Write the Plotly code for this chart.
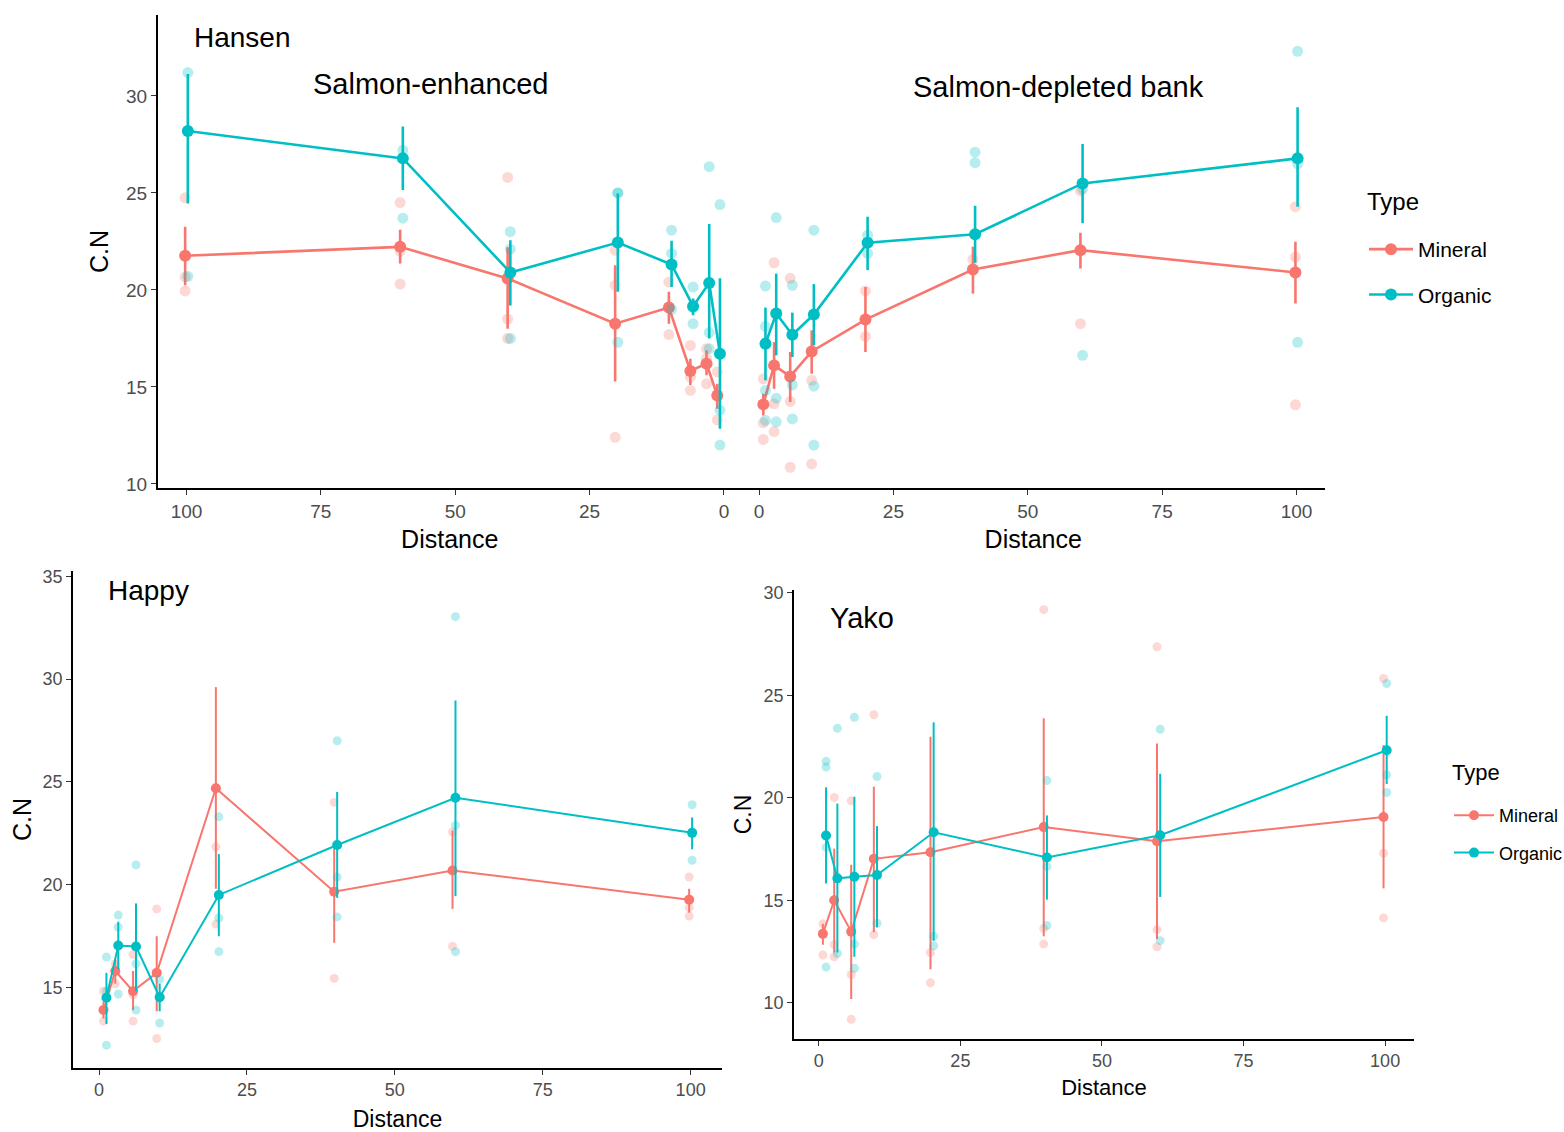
import plotly.graph_objects as go

W, H = 1564, 1132
MIN_C = "#F8766D"
ORG_C = "#00BFC4"
FONT = "Liberation Sans, Arial, sans-serif"

DIST = [1, 3, 6, 10, 20, 40, 60, 100]
TICKS = [0, 25, 50, 75, 100]

# ---- Hansen, salmon-enhanced side (left) ----
han_enh_org_mean = [16.71, 20.36, 19.16, 21.31, 22.44, 20.90, 26.78, 28.19]
han_enh_org_lo = [12.84, 17.50, 18.70, 20.15, 19.90, 19.20, 25.15, 24.46]
han_enh_org_hi = [20.60, 23.40, 19.56, 22.53, 24.97, 22.56, 28.42, 31.13]
han_enh_min_mean = [14.56, 16.20, 15.82, 19.09, 18.26, 20.59, 22.22, 21.76]
han_enh_min_lo = [13.87, 15.60, 15.10, 18.26, 15.28, 18.00, 21.36, 20.24]
han_enh_min_hi = [15.16, 16.88, 16.45, 19.90, 21.27, 22.20, 23.10, 23.25]
han_enh_org_raw = [[24.4, 13.8, 12.0], [26.35, 17.8, 16.97], [20.15, 18.26, 19.07],
                   [23.08, 21.88, 19.0], [25.0, 25.0, 17.3], [23.0, 22.1, 17.5],
                   [27.2, 23.7], [31.2, 20.7]]
han_enh_min_raw = [[15.77, 13.3, 14.6], [16.97, 15.16, 16.47], [17.14, 14.82, 15.5],
                   [20.4, 19.1, 17.7], [22.05, 20.24, 12.4], [25.8, 18.5, 17.5],
                   [24.5, 22.0, 20.3], [24.75, 20.67, 19.95]]

# ---- Hansen, salmon-depleted bank (right) ----
han_dep_org_mean = [17.23, 18.78, 17.69, 18.73, 22.43, 22.87, 25.49, 26.78]
han_dep_org_lo = [15.34, 16.63, 16.54, 17.14, 21.02, 21.40, 23.43, 24.29]
han_dep_org_hi = [19.09, 20.84, 18.83, 20.30, 23.77, 24.34, 27.52, 29.41]
han_dep_min_mean = [14.10, 16.11, 15.54, 16.83, 18.47, 21.05, 22.05, 20.90]
han_dep_min_lo = [13.53, 14.90, 14.22, 15.68, 16.80, 19.81, 21.10, 19.30]
han_dep_min_hi = [14.65, 17.31, 16.80, 17.92, 20.15, 22.22, 22.94, 22.48]
han_dep_org_raw = [[20.2, 18.12, 14.82, 13.27], [23.73, 14.42, 13.2], [20.24, 15.1, 13.35],
                   [23.08, 15.04, 12.0], [22.82, 21.88], [27.1, 26.56],
                   [25.2, 16.63], [32.3, 26.5, 17.3]]
han_dep_min_raw = [[15.42, 13.15, 12.29], [21.4, 14.13, 12.7], [20.6, 14.25, 10.86],
                   [16.85, 15.34, 11.03], [19.95, 17.6], [21.57, 21.05],
                   [25.1, 18.26], [24.29, 21.7, 14.08]]

# ---- Happy ----
hap_org_mean = [14.50, 17.04, 16.99, 14.52, 19.50, 21.93, 24.23, 22.52]
hap_org_lo = [13.22, 15.89, 14.82, 13.84, 17.49, 19.36, 19.44, 21.72]
hap_org_hi = [15.71, 18.20, 19.09, 15.18, 21.49, 24.51, 28.96, 23.27]
hap_min_mean = [13.90, 15.80, 14.82, 15.71, 24.69, 19.66, 20.69, 19.27]
hap_min_lo = [13.49, 15.18, 13.90, 13.84, 19.80, 17.17, 18.82, 18.64]
hap_min_hi = [14.29, 16.33, 15.80, 17.49, 29.61, 21.93, 22.64, 19.80]
hap_org_raw = [[16.48, 12.19, 14.82], [18.52, 17.93, 14.68], [20.96, 16.15, 13.9],
               [15.39, 13.27], [23.3, 18.38, 16.74], [27.0, 20.37, 18.43],
               [33.04, 22.88, 16.74], [23.89, 21.19]]
hap_min_raw = [[14.82, 13.36], [16.15, 15.18], [16.6, 14.64, 13.36], [18.82, 12.51],
               [21.84, 18.08], [24.0, 15.44], [22.56, 17.0], [20.37, 18.88, 18.47]]

# ---- Yako ----
yak_org_mean = [18.16, 16.07, 16.15, 16.23, 18.32, 17.09, 18.17, 22.32]
yak_org_lo = [15.82, 12.45, 12.24, 13.68, 13.03, 15.03, 15.16, 20.67]
yak_org_hi = [20.51, 19.72, 20.05, 18.62, 23.68, 19.14, 21.17, 24.00]
yak_min_mean = [13.36, 15.00, 13.47, 17.02, 17.34, 18.57, 17.88, 19.06]
yak_min_lo = [12.83, 12.45, 10.18, 13.44, 11.63, 13.24, 13.11, 15.58]
yak_min_hi = [13.85, 17.52, 16.73, 20.54, 22.98, 23.88, 22.65, 22.57]
yak_org_raw = [[21.78, 21.5, 17.58, 11.74], [23.39, 12.4], [23.93, 12.86, 11.68],
               [21.04, 13.88], [13.24, 12.78], [20.84, 16.64, 13.77],
               [23.34, 13.03], [25.58, 21.12, 20.26]]
yak_min_raw = [[13.85, 12.33], [20.02, 12.83, 12.24], [19.85, 11.38, 9.19],
               [24.05, 13.32], [12.45, 10.97], [29.18, 13.63, 12.86],
               [27.37, 13.57, 12.73], [25.82, 17.3, 14.14]]


def px(x):
    return x / W


def py(y):
    return 1 - y / H


fig = go.Figure()


def add_series(name, color, mean, lo, hi, raw, xa, ya, dodge, msize, rsize, lw,
               legend=None, show=False):
    xs = [d + dodge for d in DIST]
    rx, ry = [], []
    for d, vals in zip(DIST, raw):
        for v in vals:
            rx.append(d + dodge)
            ry.append(v)
    fig.add_trace(go.Scatter(
        x=rx, y=ry, mode="markers", xaxis=xa, yaxis=ya, showlegend=False,
        marker=dict(color=color, size=rsize, opacity=0.28, line=dict(width=0)),
        hoverinfo="skip"))
    fig.add_trace(go.Scatter(
        x=xs, y=mean, mode="lines+markers", name=name, xaxis=xa, yaxis=ya,
        line=dict(color=color, width=lw),
        marker=dict(color=color, size=msize),
        error_y=dict(type="data", symmetric=False,
                     array=[h - m for h, m in zip(hi, mean)],
                     arrayminus=[m - l for m, l in zip(mean, lo)],
                     width=0, thickness=lw, color=color),
        showlegend=show, legend=legend if legend else "legend",
        legendgroup=(legend or "legend") + name))


# Top: Hansen left (reversed axis), right
add_series("Mineral", MIN_C, han_enh_min_mean, han_enh_min_lo, han_enh_min_hi,
           han_enh_min_raw, "x", "y", 0.25, 12, 11, 2.6, "legend", True)
add_series("Organic", ORG_C, han_enh_org_mean, han_enh_org_lo, han_enh_org_hi,
           han_enh_org_raw, "x", "y", -0.25, 12, 11, 2.6, "legend", True)
add_series("Mineral", MIN_C, han_dep_min_mean, han_dep_min_lo, han_dep_min_hi,
           han_dep_min_raw, "x2", "y", -0.2, 12, 11, 2.6)
add_series("Organic", ORG_C, han_dep_org_mean, han_dep_org_lo, han_dep_org_hi,
           han_dep_org_raw, "x2", "y", 0.2, 12, 11, 2.6)
# Happy
add_series("Mineral", MIN_C, hap_min_mean, hap_min_lo, hap_min_hi,
           hap_min_raw, "x3", "y2", -0.25, 10, 9, 2)
add_series("Organic", ORG_C, hap_org_mean, hap_org_lo, hap_org_hi,
           hap_org_raw, "x3", "y2", 0.25, 10, 9, 2)
# Yako
add_series("Mineral", MIN_C, yak_min_mean, yak_min_lo, yak_min_hi,
           yak_min_raw, "x4", "y3", -0.28, 10, 9, 2, "legend2", True)
add_series("Organic", ORG_C, yak_org_mean, yak_org_lo, yak_org_hi,
           yak_org_raw, "x4", "y3", 0.28, 10, 9, 2, "legend2", True)

tickfont_top = dict(family=FONT, size=19, color="#4D4D4D")
tickfont_bot = dict(family=FONT, size=18, color="#4D4D4D")


def xax(domain, rng, anchor, tf, title_size, standoff, lw):
    return dict(domain=domain, range=rng, anchor=anchor, tickvals=TICKS,
                automargin=False,
                showline=True, linecolor="black", linewidth=lw,
                ticks="outside", ticklen=5, tickwidth=1.2, tickcolor="#333333",
                showgrid=False, zeroline=False, tickfont=tf,
                title=dict(text="Distance", standoff=standoff,
                           font=dict(family=FONT, size=title_size, color="black")))


def yax(domain, rng, anchor, tv, tf, title_size, standoff, lw):
    return dict(domain=domain, range=rng, anchor=anchor, tickvals=tv,
                automargin=False,
                showline=True, linecolor="black", linewidth=lw,
                ticks="outside", ticklen=5, tickwidth=1.2, tickcolor="#333333",
                showgrid=False, zeroline=False, tickfont=tf,
                title=dict(text="C.N", standoff=standoff,
                           font=dict(family=FONT, size=title_size, color="black")))


mid = 741.5
fig.update_layout(
    width=W, height=H,
    margin=dict(l=0, r=0, t=0, b=0, pad=0, autoexpand=False),
    paper_bgcolor="white", plot_bgcolor="rgba(0,0,0,0)",
    font=dict(family=FONT),
    xaxis=xax([px(158), px(mid)], [105.3, -3.26], "y", tickfont_top, 25, 10, 2),
    xaxis2=xax([px(mid), px(1325)], [-3.26, 105.3], "y", tickfont_top, 25, 10, 2),
    yaxis=yax([py(488), py(15)], [9.79, 34.17], "x", [10, 15, 20, 25, 30],
              tickfont_top, 25, 10, 2),
    xaxis3=xax([px(73), px(722)], [-4.4, 105.3], "y2", tickfont_bot, 23, 11, 1.6),
    yaxis2=yax([py(1068), py(571)], [11.08, 35.26], "x3", [15, 20, 25, 30, 35],
               tickfont_bot, 25, 4, 1.6),
    xaxis4=xax([px(794), px(1414)], [-4.38, 105.1], "y3", tickfont_bot, 22, 9, 1.6),
    yaxis3=yax([py(1039), py(590)], [8.23, 30.14], "x4", [10, 15, 20, 25, 30],
               tickfont_bot, 23, 6, 1.6),
    legend=dict(x=px(1364), y=py(229), xanchor="left", yanchor="top",
                font=dict(family=FONT, size=21, color="black"),
                itemwidth=44, tracegroupgap=15, bgcolor="rgba(0,0,0,0)"),
    legend2=dict(x=px(1449), y=py(797), xanchor="left", yanchor="top",
                 font=dict(family=FONT, size=18, color="black"),
                 itemwidth=40, tracegroupgap=11, bgcolor="rgba(0,0,0,0)"),
    showlegend=True,
)

labels = [
    ("Hansen", 192, 37, 28),
    ("Salmon-enhanced", 311, 84, 29),
    ("Salmon-depleted bank", 911, 87, 29),
    ("Happy", 106, 590, 28),
    ("Yako", 828, 618, 29),
    ("Type", 1365, 201, 24),
    ("Type", 1450, 772, 22),
]
for text, x, y, s in labels:
    fig.add_annotation(text=text, x=px(x), y=py(y), xref="paper", yref="paper",
                       xanchor="left", yanchor="middle", showarrow=False,
                       font=dict(family=FONT, size=s, color="black"))

fig.write_html("out.html")
